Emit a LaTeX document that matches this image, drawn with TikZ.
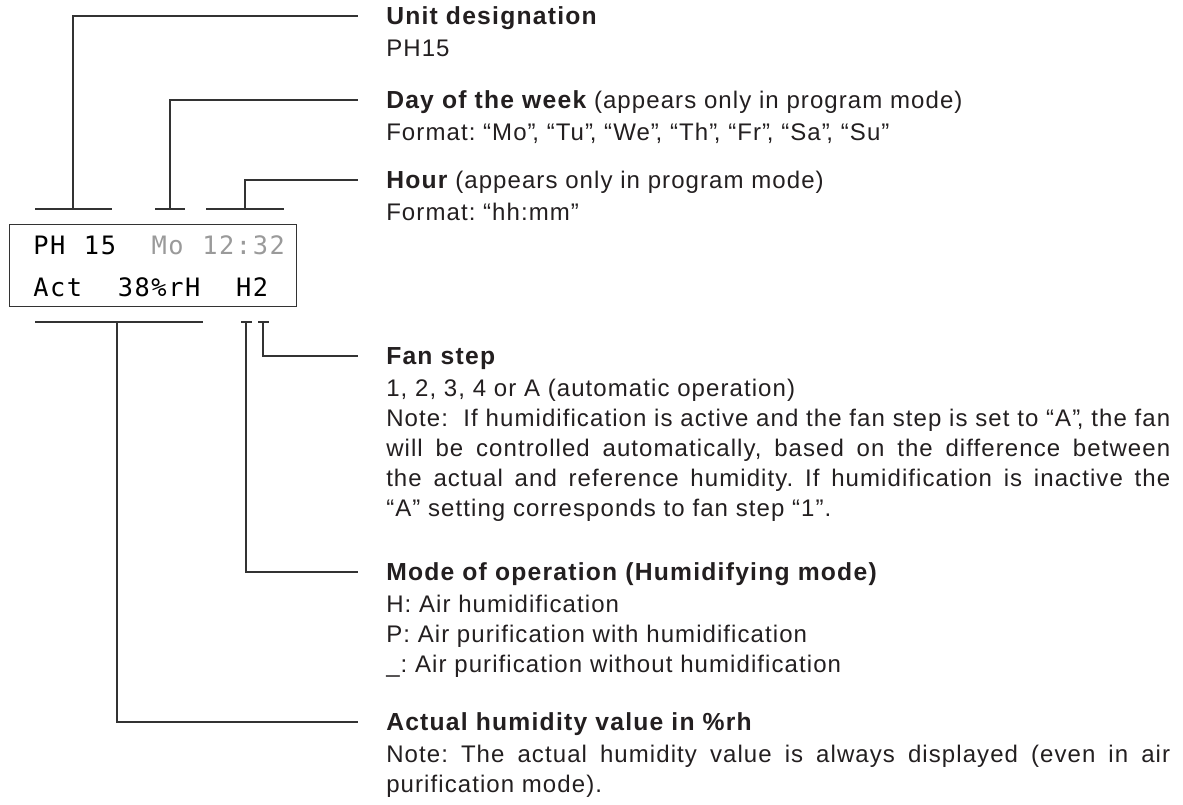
\documentclass[tikz,border=0pt]{standalone}
\usepackage{fontspec}
\setmainfont{Liberation Sans}[LetterSpace=4.5, BoldFeatures={LetterSpace=5}]
\newfontfamily\lcdfont{DejaVu Sans Mono}[LetterSpace=6.3]
\definecolor{txt}{HTML}{231F20}
\definecolor{lnc}{HTML}{333333}
\definecolor{lcdgray}{HTML}{9A9A9A}
\newcommand\myqc{”\kern-0.14em,}
\newcommand\hb[1]{{\fontsize{18.5}{22.5}\selectfont\bfseries #1}}
\begin{document}
\frenchspacing
\begin{tikzpicture}[x=0.75pt,y=-0.75pt]
\tikzset{
  conn/.style={draw=lnc, line width=0.9pt},
  hd/.style={anchor=base west, inner sep=0pt, text=txt, font=\fontsize{18}{22.5}\selectfont},
  bd/.style={anchor=base west, inner sep=0pt, text=txt, text width=588pt, align=justify, font=\fontsize{18}{22.5}\selectfont},
  lcd/.style={anchor=base west, inner sep=0pt, text=black, font=\lcdfont\fontsize{19}{19}\selectfont},
  dispbox/.style={draw=lnc, line width=1.1pt, inner sep=0pt, anchor=north west, minimum width=215.25pt, minimum height=61.5pt}
}
\useasboundingbox (0,0) rectangle (1183,805);
\fill[white] (0,0) rectangle (1183,805);

% display
\node[dispbox] (disp) at (9,224) {};
\node[lcd] (w1) at (33,255) {PH};
\node[lcd] (w2) at (83.7,255) {15};
\node[lcd, text=lcdgray] (w3) at (151.3,255) {Mo};
\node[lcd, text=lcdgray] (w4) at (202,255) {12:32};
\node[lcd] (w5) at (33,297) {Act};
\node[lcd] (w6) at (117.5,297) {38\%rH};
\node[lcd] (w7) at (235.8,297) {H2};

% bars
\coordinate (t1l) at (35,209);  \coordinate (t1r) at (112,209); \coordinate (t1m) at (73,209);
\coordinate (t2l) at (155,209); \coordinate (t2r) at (185,209); \coordinate (t2m) at (170,209);
\coordinate (t3l) at (206,209); \coordinate (t3r) at (284,209); \coordinate (t3m) at (245,209);
\coordinate (b1l) at (35,322);  \coordinate (b1r) at (203,322); \coordinate (b1m) at (117,322);
\coordinate (b2l) at (241,322); \coordinate (b2r) at (252,322); \coordinate (b2m) at (246,322);
\coordinate (b3l) at (258,322); \coordinate (b3r) at (269,322); \coordinate (b3m) at (263,322);
\draw[conn] (t1l) -- (t1r);
\draw[conn] (t2l) -- (t2r);
\draw[conn] (t3l) -- (t3r);
\draw[conn] (b1l) -- (b1r);
\draw[conn] (b2l) -- (b2r);
\draw[conn] (b3l) -- (b3r);

% line ends
\coordinate (e1) at (358,16);
\coordinate (e2) at (358,100);
\coordinate (e3) at (358,180);
\coordinate (e4) at (358,356);
\coordinate (e5) at (358,572);
\coordinate (e6) at (358,722);
\draw[conn] (t1m) |- (e1);
\draw[conn] (t2m) |- (e2);
\draw[conn] (t3m) |- (e3);
\draw[conn] (b3m) |- (e4);
\draw[conn] (b2m) |- (e5);
\draw[conn] (b1m) |- (e6);

% texts
\node[hd] (h1) at (386,24.8) {\hb{Unit designation}};
\node[hd] (d1) at (386,56.6) {PH15};

\node[hd] (h2) at (386,108.8) {\hb{Day of the week} (appears only in program mode)};
\node[hd] (d2) at (386,140.6) {Format: “Mo\myqc{} “Tu\myqc{} “We\myqc{} “Th\myqc{} “Fr\myqc{} “Sa\myqc{} “Su”};

\node[hd] (h3) at (386,188.8) {\hb{Hour} (appears only in program mode)};
\node[hd] (d3) at (386,220.6) {Format: “hh:mm”};

\node[hd] (h4) at (386,364.8) {\hb{Fan step}};
\node[bd] (d4) at (386,396.6) {1, 2, 3, 4 or A (automatic operation)\par
Note:\ \ If humidification is active and the fan step is set to “A\myqc{} the fan\linebreak
will be controlled automatically, based on the difference between\linebreak
the actual and reference humidity. If humidification is inactive the\linebreak
“A” setting corresponds to fan step “1”.};

\node[hd] (h5) at (386,580.8) {\hb{Mode of operation (Humidifying mode)}};
\node[bd] (d5) at (386,612.6) {H: Air humidification\par
P: Air purification with humidification\par
\_: Air purification without humidification};

\node[hd] (h6) at (386,730.8) {\hb{Actual humidity value in \%rh}};
\node[bd] (d6) at (386,762.6) {Note: The actual humidity value is always displayed (even in air\linebreak
purification mode).};
\end{tikzpicture}
\end{document}
